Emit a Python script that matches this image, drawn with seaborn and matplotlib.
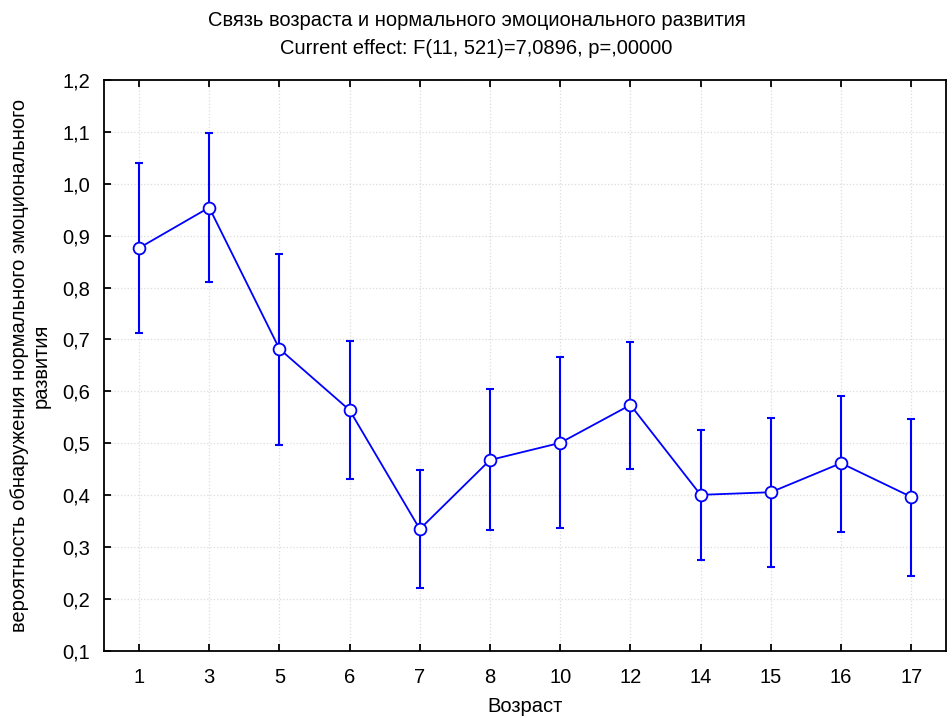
import matplotlib
matplotlib.use("Agg")
import matplotlib.pyplot as plt
import seaborn as sns
import pandas as pd
from matplotlib.ticker import FuncFormatter

ages = ["1", "3", "5", "6", "7", "8", "10", "12", "14", "15", "16", "17"]
means = [0.876, 0.954, 0.682, 0.564, 0.335, 0.468, 0.501, 0.574, 0.401, 0.406, 0.462, 0.397]
upper = [1.040, 1.098, 0.865, 0.697, 0.449, 0.605, 0.666, 0.695, 0.526, 0.549, 0.591, 0.546]
lower = [0.713, 0.811, 0.497, 0.431, 0.221, 0.333, 0.337, 0.451, 0.275, 0.262, 0.329, 0.245]

df = pd.DataFrame({"pos": range(len(ages)), "age": ages, "mean": means,
                   "upper": upper, "lower": lower})

sns.set_style("white")
plt.rcParams["font.family"] = ["Liberation Sans", "DejaVu Sans"]
plt.rcParams["text.color"] = "black"

fig, ax = plt.subplots(figsize=(9.53, 7.18), dpi=100)
fig.subplots_adjust(left=0.109, right=0.993, top=0.889, bottom=0.093)

ax.errorbar(df["pos"], df["mean"],
            yerr=[df["mean"] - df["lower"], df["upper"] - df["mean"]],
            fmt="none", ecolor="#0000ff", elinewidth=1.5, capsize=3, capthick=1.5, zorder=2)
sns.lineplot(data=df, x="pos", y="mean", ax=ax, color="#0000ff", linewidth=1.3,
             marker="o", markersize=8.5, markerfacecolor="white",
             markeredgecolor="#0000ff", markeredgewidth=1.3, zorder=3)

ax.set_xlim(-0.5, len(ages) - 0.5)
ax.set_ylim(0.1, 1.2)
ax.set_xticks(df["pos"])
ax.set_xticklabels(ages)
ax.set_yticks([0.1 * i for i in range(1, 13)])
ax.yaxis.set_major_formatter(FuncFormatter(lambda v, p: f"{v:.1f}".replace(".", ",")))

ax.grid(True, color="#dcdcdc", linestyle=":", linewidth=0.9)
ax.set_axisbelow(True)
for s in ax.spines.values():
    s.set_visible(True)
    s.set_color("black")
    s.set_linewidth(1.3)
ax.tick_params(direction="in", length=5, width=1.3, labelsize=14.5, colors="black",
               labelcolor="black", left=True, bottom=True, pad=10)
ax.tick_params(axis="x", top=True, pad=12)

ax.set_xlabel("Возраст", fontsize=14.5, labelpad=7, color="black")
ax.set_ylabel("вероятность обнаружения нормального эмоционального\nразвития",
              fontsize=14.5, labelpad=8, color="black")

fig.text(0.5, 0.971, "Связь возраста и нормального эмоционального развития",
         ha="center", va="center", fontsize=14.5)
fig.text(0.5, 0.933, "Current effect: F(11, 521)=7,0896, p=,00000",
         ha="center", va="center", fontsize=14.5)

fig.savefig("out.png", dpi=100)
